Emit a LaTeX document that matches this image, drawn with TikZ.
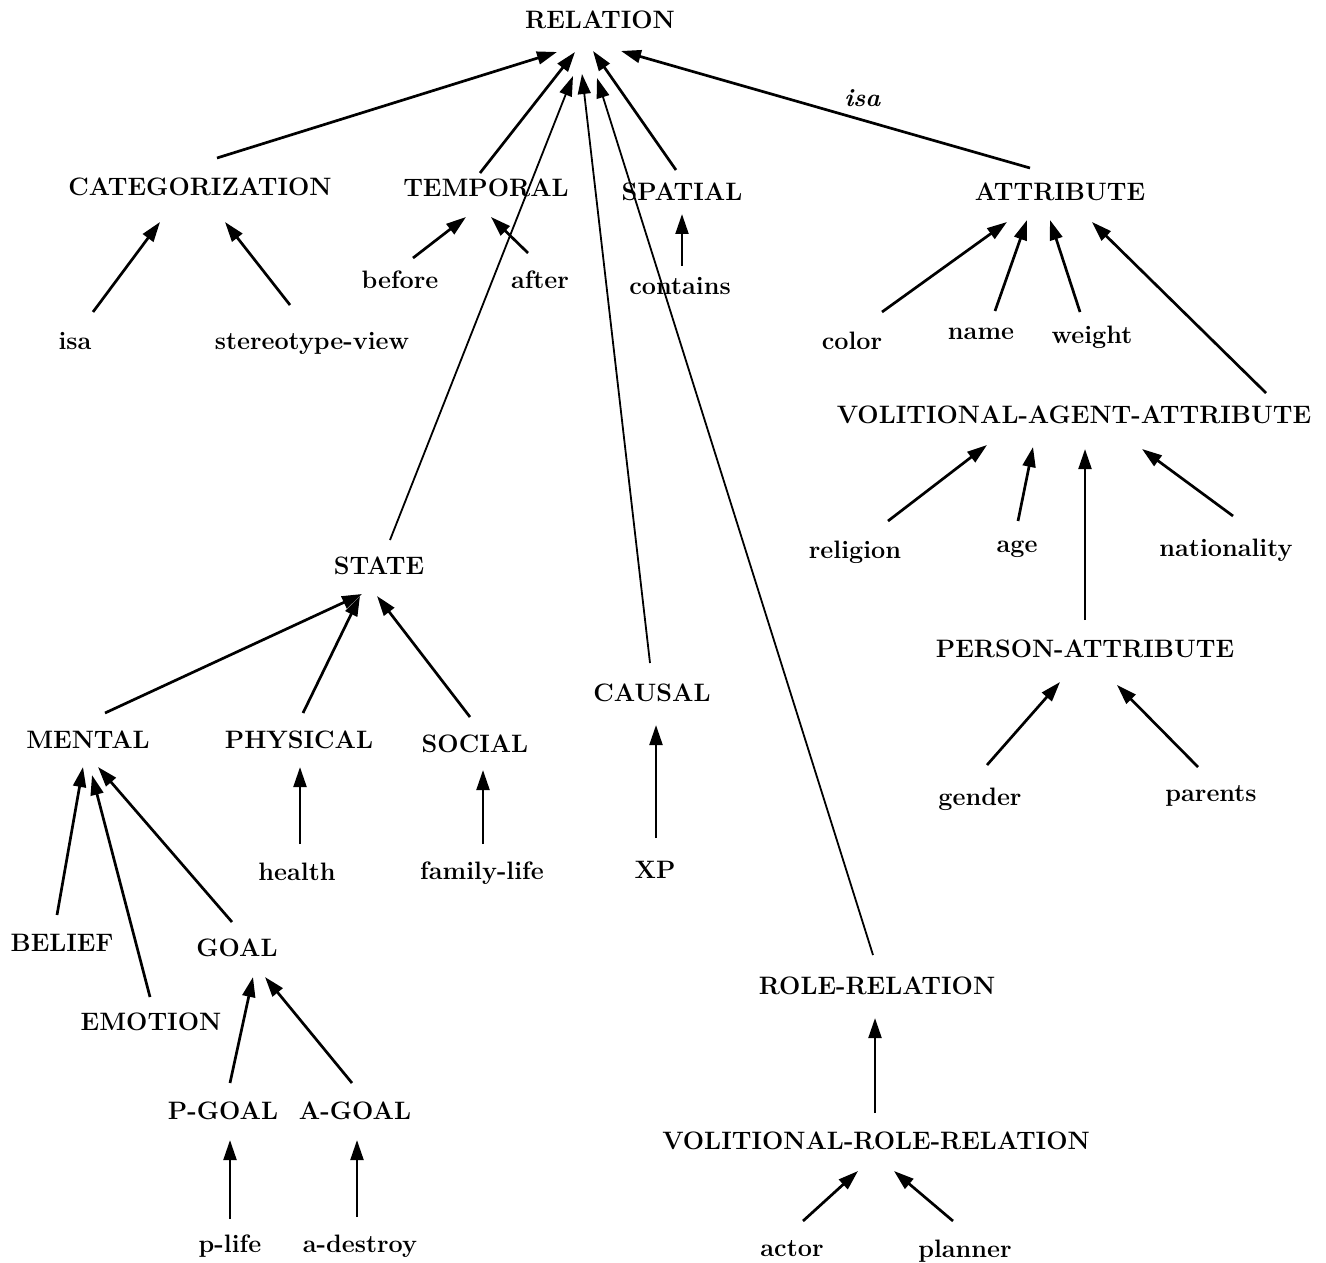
\documentclass[tikz,border=0pt]{standalone}
\usetikzlibrary{arrows.meta}
\begin{document}
\begin{tikzpicture}[x=0.5pt,y=-0.5pt,
  lbl/.style={font=\fontsize{12.6}{15}\selectfont\bfseries, inner sep=0pt,
              text height=8.6pt, text depth=0pt},
  edgelbl/.style={font=\fontsize{12.6}{15}\selectfont\bfseries\itshape, inner sep=0pt},
  arr/.style={line width=1.35pt, -{Triangle[length=10pt,width=6.4pt]}},
  longarr/.style={arr, line width=0.9pt}]
\useasboundingbox (0,0) rectangle (1326,1262);

% concept nodes
\node[lbl] (rel)  at (600,20)   {RELATION};
\node[lbl] (cat)  at (200,187)  {CATEGORIZATION};
\node[lbl] (tem)  at (486,188)  {TEMPORAL};
\node[lbl] (spa)  at (682,192)  {SPATIAL};
\node[lbl] (att)  at (1060,192) {ATTRIBUTE};
\node[lbl] (isa)  at (75,341)   {isa};
\node[lbl] (ster) at (312,341)  {stereotype-view};
\node[lbl] (bef)  at (400,280)  {before};
\node[lbl] (aft)  at (540,280)  {after};
\node[lbl] (con)  at (680,286)  {contains};
\node[lbl] (col)  at (852,341)  {color};
\node[lbl] (nam)  at (981,331)  {name};
\node[lbl] (wei)  at (1092,335) {weight};
\node[lbl] (vaa)  at (1074,415) {VOLITIONAL-AGENT-ATTRIBUTE};
\node[lbl] (rlg)  at (855,550)  {religion};
\node[lbl] (age)  at (1017,544) {age};
\node[lbl] (nat)  at (1226,548) {nationality};
\node[lbl] (pa)   at (1085,649) {PERSON-ATTRIBUTE};
\node[lbl] (gen)  at (980,797)  {gender};
\node[lbl] (par)  at (1211,793) {parents};
\node[lbl] (sta)  at (379,566)  {STATE};
\node[lbl] (men)  at (88,740)   {MENTAL};
\node[lbl] (phy)  at (299,740)  {PHYSICAL};
\node[lbl] (soc)  at (475,744)  {SOCIAL};
\node[lbl] (cau)  at (652,693)  {CAUSAL};
\node[lbl] (xp)   at (655,870)  {XP};
\node[lbl] (hea)  at (297,872)  {health};
\node[lbl] (fam)  at (482,871)  {family-life};
\node[lbl] (bel)  at (62,943)   {BELIEF};
\node[lbl] (goa)  at (237,948)  {GOAL};
\node[lbl] (emo)  at (151,1022) {EMOTION};
\node[lbl] (pg)   at (223,1111) {P-GOAL};
\node[lbl] (ag)   at (355,1111) {A-GOAL};
\node[lbl] (pl)   at (230,1244) {p-life};
\node[lbl] (ad)   at (360,1244) {a-destroy};
\node[lbl] (rr)   at (877,986)  {ROLE-RELATION};
\node[lbl] (vrr)  at (876,1141) {VOLITIONAL-ROLE-RELATION};
\node[lbl] (act)  at (792,1248) {actor};
\node[lbl] (pla)  at (965,1249) {planner};

% links into RELATION
\draw[arr] ([shift={(17,-29)}]cat.center) -- ([shift={(-43,32)}]rel.center);
\draw[arr] ([shift={(-6,-15)}]tem.center) -- ([shift={(-25,32)}]rel.center);
\draw[longarr] ([shift={(11,-26)}]sta.center) -- ([shift={(-27,56)}]rel.center);
\draw[longarr] ([shift={(-2,-30)}]cau.center) -- ([shift={(-18,54)}]rel.center);
\draw[longarr] ([shift={(-4,-31)}]rr.center) -- ([shift={(-3,58)}]rel.center);
\draw[arr] ([shift={(-6,-22)}]spa.center) -- ([shift={(-7,31)}]rel.center);
\draw[arr] ([shift={(-30,-24)}]att.center) -- node[edgelbl, pos=0.41, yshift=11pt] {isa} ([shift={(21,31)}]rel.center);

% CATEGORIZATION, TEMPORAL, SPATIAL
\draw[arr] ([shift={(18,-29)}]isa.center) -- ([shift={(-40,35)}]cat.center);
\draw[arr] ([shift={(-22,-36)}]ster.center) -- ([shift={(25,35)}]cat.center);
\draw[arr] ([shift={(13,-22)}]bef.center) -- ([shift={(-20,29)}]tem.center);
\draw[arr] ([shift={(-12,-27)}]aft.center) -- ([shift={(5,29)}]tem.center);
\draw[arr] ([shift={(2,-20)}]con.center) -- ([shift={(0,22)}]spa.center);

% ATTRIBUTE branch
\draw[arr] ([shift={(30,-29)}]col.center) -- ([shift={(-53,30)}]att.center);
\draw[arr] ([shift={(14,-20)}]nam.center) -- ([shift={(-33,28)}]att.center);
\draw[arr] ([shift={(-12,-23)}]wei.center) -- ([shift={(-10,28)}]att.center);
\draw[arr] ([shift={(192,-22)}]vaa.center) -- ([shift={(32,30)}]att.center);
\draw[arr] ([shift={(33,-29)}]rlg.center) -- ([shift={(-87,30)}]vaa.center);
\draw[arr] ([shift={(1,-23)}]age.center) -- ([shift={(-41,32)}]vaa.center);
\draw[arr] ([shift={(0,-29)}]pa.center) -- ([shift={(11,34)}]vaa.center);
\draw[arr] ([shift={(7,-32)}]nat.center) -- ([shift={(68,34)}]vaa.center);
\draw[arr] ([shift={(7,-32)}]gen.center) -- ([shift={(-25,33)}]pa.center);
\draw[arr] ([shift={(-13,-26)}]par.center) -- ([shift={(32,36)}]pa.center);

% STATE branch
\draw[arr] ([shift={(17,-27)}]men.center) -- ([shift={(-17,28)}]sta.center);
\draw[arr] ([shift={(4,-27)}]phy.center) -- ([shift={(-19,30)}]sta.center);
\draw[arr] ([shift={(-5,-27)}]soc.center) -- ([shift={(-2,30)}]sta.center);
\draw[arr] ([shift={(-5,-28)}]bel.center) -- ([shift={(-5,27)}]men.center);
\draw[arr] ([shift={(-1,-25)}]emo.center) -- ([shift={(4,35)}]men.center);
\draw[arr] ([shift={(-5,-26)}]goa.center) -- ([shift={(10,27)}]men.center);
\draw[arr] ([shift={(3,-28)}]hea.center) -- ([shift={(1,27)}]phy.center);
\draw[arr] ([shift={(1,-27)}]fam.center) -- ([shift={(8,26)}]soc.center);
\draw[arr] ([shift={(7,-28)}]pg.center) -- ([shift={(16,29)}]goa.center);
\draw[arr] ([shift={(-3,-28)}]ag.center) -- ([shift={(28,29)}]goa.center);
\draw[arr] ([shift={(0,-25)}]pl.center) -- ([shift={(7,29)}]pg.center);
\draw[arr] ([shift={(-3,-27)}]ad.center) -- ([shift={(2,29)}]ag.center);

% CAUSAL and ROLE-RELATION
\draw[arr] ([shift={(1,-32)}]xp.center) -- ([shift={(4,32)}]cau.center);
\draw[arr] ([shift={(-1,-28)}]vrr.center) -- ([shift={(-2,32)}]rr.center);
\draw[arr] ([shift={(11,-27)}]act.center) -- ([shift={(-18,30)}]vrr.center);
\draw[arr] ([shift={(-12,-28)}]pla.center) -- ([shift={(18,30)}]vrr.center);
\end{tikzpicture}
\end{document}
